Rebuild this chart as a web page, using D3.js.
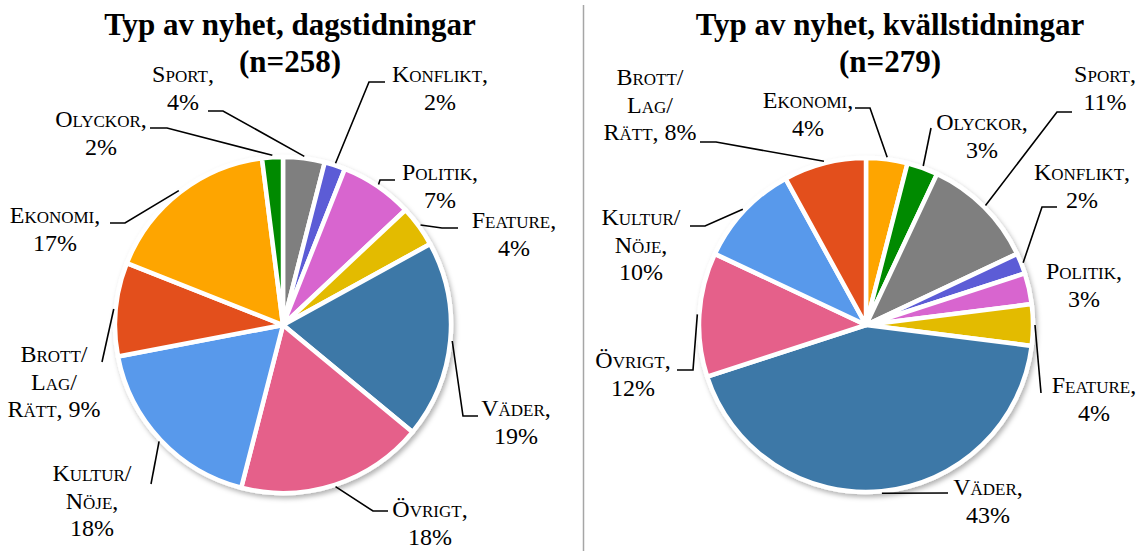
<!DOCTYPE html>
<html>
<head>
<meta charset="utf-8">
<script src="https://cdn.jsdelivr.net/npm/d3@7"></script>
<style>
  body { margin: 0; background: #fff; }
  svg { display: block; }
  .title { font-family: "Liberation Serif", serif; font-weight: bold; font-size: 31px; fill: #000; }
  .lbl { font-family: "Liberation Serif", serif; font-size: 24px; font-variant: small-caps; fill: #000; }
  .leader { fill: none; stroke: #000; stroke-width: 1.6; }
</style>
</head>
<body>
<div id="chart"></div>
<script>
// data (percent of articles)
const categoriesDag = ["Sport", "Konflikt", "Politik", "Feature", "Väder", "Övrigt", "Kultur/Nöje", "Brott/Lag/Rätt", "Ekonomi", "Olyckor"];
const valuesDag = [4, 2, 7, 4, 19, 18, 18, 9, 17, 2];
const nDag = 258;

const categoriesKvall = ["Ekonomi", "Olyckor", "Sport", "Konflikt", "Politik", "Feature", "Väder", "Övrigt", "Kultur/Nöje", "Brott/Lag/Rätt"];
const valuesKvall = [4, 3, 11, 2, 3, 4, 43, 12, 10, 8];
const nKvall = 279;

const colors = {
  "Sport": "#7f7f7f",
  "Konflikt": "#5b5bd6",
  "Politik": "#d865cf",
  "Feature": "#e3bb00",
  "Väder": "#3e78a7",
  "Övrigt": "#e5608a",
  "Kultur/Nöje": "#5899eb",
  "Brott/Lag/Rätt": "#e3501a",
  "Ekonomi": "#fea500",
  "Olyckor": "#008a00"
};

// label placement (manual, like the original), same order as the categories
const layoutDag = [
  {x: 183, y: 82, lead: [[223, 111], [208, 111]]},
  {x: 440, y: 82, lead: [[369, 82], [385, 82]]},
  {x: 440, y: 180, lead: [[380, 180], [395, 180]]},
  {x: 514, y: 228, lead: [[442, 228], [458, 228]]},
  {x: 516, y: 416, lead: [[463, 416], [478, 416]]},
  {x: 430, y: 517, lead: [[373, 511], [388, 511]]},
  {x: 92, y: 481, lead: [[151, 484]]},
  {x: 54, y: 362, inline: true, lead: [[102, 362]]},
  {x: 55, y: 223, lead: [[125, 223], [110, 223]]},
  {x: 101, y: 127, lead: [[167, 128], [150, 128]]}
];
const layoutKvall = [
  {x: 808, y: 108, lead: [[870, 108], [855, 108]]},
  {x: 982, y: 130, lead: [[931, 128]]},
  {x: 1105, y: 82, lead: [[1057, 112], [1072, 112]]},
  {x: 1082, y: 180, lead: [[1042, 207], [1057, 207]]},
  {x: 1084, y: 279, lead: null},
  {x: 1094, y: 393, lead: [[1041, 393]]},
  {x: 988, y: 495, lead: [[948, 493]]},
  {x: 633, y: 368, lead: [[693, 370], [677, 370]]},
  {x: 641, y: 225, lead: [[705, 226], [690, 226]]},
  {x: 650, y: 85, inline: true, lead: [[716, 142], [700, 142]]}
];

const W = 1146, H = 551;
const svg = d3.select("#chart").append("svg")
  .attr("width", W)
  .attr("height", H);

const defs = svg.append("defs");
defs.append("filter")
  .attr("id", "shadow")
  .attr("x", "-10%").attr("y", "-10%")
  .attr("width", "120%").attr("height", "120%")
  .append("feDropShadow")
  .attr("dx", 2).attr("dy", 3)
  .attr("stdDeviation", 2.5)
  .attr("flood-color", "#000")
  .attr("flood-opacity", 0.3);

// divider between the two charts
svg.append("line")
  .attr("x1", 583.5).attr("x2", 583.5)
  .attr("y1", 5).attr("y2", H)
  .attr("stroke", "#a6a6a6")
  .attr("stroke-width", 1.5);

function labelLines(name, value, inline) {
  const parts = name.split("/");
  const lines = parts.map((p, i) => i < parts.length - 1 ? p + "/" : p + ",");
  if (inline) lines[lines.length - 1] += " " + value + "%";
  else lines.push(value + "%");
  return lines;
}

function drawPie(opt) {
  const data = opt.categories.map((c, i) => ({name: c, value: opt.values[i]}));

  svg.append("text")
    .attr("class", "title")
    .attr("text-anchor", "middle")
    .attr("x", opt.titleX)
    .selectAll("tspan")
    .data([opt.title, "(n=" + opt.n + ")"])
    .join("tspan")
    .attr("x", opt.titleX)
    .attr("y", (d, i) => 35 + i * 37)
    .text(d => d);

  const pie = d3.pie().sort(null).value(d => d.value);
  const arcs = pie(data);
  const arc = d3.arc().innerRadius(0).outerRadius(opt.r);
  const edge = d3.arc().innerRadius(opt.r + 2).outerRadius(opt.r + 2);

  const g = svg.append("g")
    .attr("transform", `translate(${opt.cx},${opt.cy})`);

  g.append("g")
    .attr("filter", "url(#shadow)")
    .selectAll("path")
    .data(arcs)
    .join("path")
    .attr("d", arc)
    .attr("fill", d => colors[d.data.name])
    .attr("stroke", "#fff")
    .attr("stroke-width", 4.5)
    .attr("stroke-linejoin", "round");

  // leader lines
  arcs.forEach((d, i) => {
    const lay = opt.layout[i];
    if (!lay.lead) return;
    const c = edge.centroid(d);
    const pts = [[opt.cx + c[0], opt.cy + c[1]]].concat(lay.lead);
    svg.append("path")
      .attr("class", "leader")
      .attr("d", d3.line()(pts));
  });

  // labels
  arcs.forEach((d, i) => {
    const lay = opt.layout[i];
    svg.append("text")
      .attr("class", "lbl")
      .attr("text-anchor", "middle")
      .selectAll("tspan")
      .data(labelLines(d.data.name, d.data.value, lay.inline))
      .join("tspan")
      .attr("x", lay.x)
      .attr("y", (t, j) => lay.y + j * 27.5)
      .text(t => t);
  });
}

drawPie({
  title: "Typ av nyhet, dagstidningar", n: nDag, titleX: 290,
  categories: categoriesDag, values: valuesDag, layout: layoutDag,
  cx: 283, cy: 325, r: 168
});

drawPie({
  title: "Typ av nyhet, kvällstidningar", n: nKvall, titleX: 890,
  categories: categoriesKvall, values: valuesKvall, layout: layoutKvall,
  cx: 866, cy: 325, r: 167
});
</script>
</body>
</html>
